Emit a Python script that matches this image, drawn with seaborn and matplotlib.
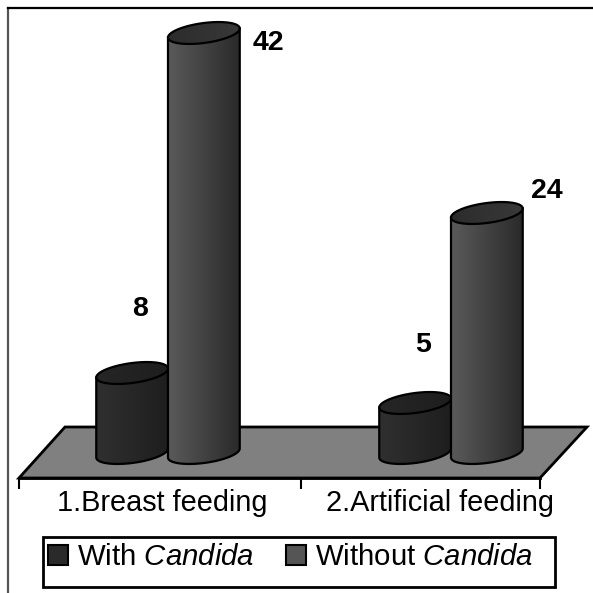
#!/usr/bin/env python

import numpy as np
import pandas as pd
import seaborn as sns
import matplotlib.pyplot as plt
from matplotlib.colors import to_rgb
from matplotlib.patches import PathPatch, Patch, Polygon, Rectangle
from matplotlib.path import Path

# Values
feeding = ['1.Breast feeding', '2.Artificial feeding']
groups = ['With Candida', 'Without Candida']
with_candida = [8, 5]
without_candida = [42, 24]

legend_labels = ['With $\\mathit{Candida}$', 'Without $\\mathit{Candida}$']

sns.set_style('white')
plt.rcParams['font.family'] = ['Liberation Sans', 'DejaVu Sans']
plt.rcParams['mathtext.fontset'] = 'custom'
plt.rcParams['mathtext.it'] = 'Liberation Sans:italic'
plt.rcParams['mathtext.rm'] = 'Liberation Sans'

df = pd.DataFrame({
    'feeding': feeding * 2,
    'group': [groups[0]] * 2 + [groups[1]] * 2,
    'count': with_candida + without_candida,
})


# pixel -> data helpers, the scale is 283 px per category and 10 px per case
def px_x(p):
    return (p - 168) / 283


def px_y(p):
    return (453 - p) / 10


def ramp(c0, c1):
    return np.linspace(to_rgb(c0), to_rgb(c1), 64)[None, :, :]


fig = plt.figure(figsize=(5.93, 5.93), dpi=100)
ax = fig.add_axes([8 / 593, 0, 585 / 593, 585 / 593])

sns.barplot(data=df, x='feeding', y='count', hue='group', order=feeding, hue_order=groups,
            width=0.507, gap=0, legend=False, ax=ax, color='0.2')
bars = list(ax.patches)[:4]

xlim = (px_x(8), px_x(593))
ylim = (px_y(593), px_y(8))

# floor of the fake 3D chart
floor = Polygon([(px_x(19), px_y(478)), (px_x(65), px_y(427)), (px_x(587), px_y(427)), (px_x(540), px_y(478))],
                closed=True, facecolor='#808080', edgecolor='black', lw=2, zorder=1)
ax.add_patch(floor)

body_ramp = [('#303030', '#1e1e1e'), ('#5a5a5a', '#2a2a2a')]
cap_ramp = [('#262626', '#1e1e1e'), ('#2c2c2c', '#383838')]
half_h = 1.0
tilt = 0.45

for i, bar in enumerate(bars):
    hue = i // 2
    left, right = bar.get_x(), bar.get_x() + bar.get_width()
    cx = (left + right) / 2
    a = bar.get_width() / 2
    top = bar.get_height()
    bar.set_visible(False)

    # body: lower half of the foot ellipse, then straight up to the rim
    t = np.linspace(np.pi, 2 * np.pi, 60)
    xs = cx + a * np.cos(t)
    ys = half_h * np.sin(t) + tilt * np.cos(t)
    verts = np.column_stack([xs, ys])
    verts = np.vstack([verts, [right, top + tilt], [left, top - tilt], verts[0]])
    body = PathPatch(Path(verts), facecolor='none', edgecolor='black', lw=1.6, zorder=3 + hue * 2)
    ax.add_patch(body)
    im = ax.imshow(ramp(*body_ramp[hue]), extent=(left, right, -half_h - tilt, top + tilt),
                   aspect='auto', zorder=2.9 + hue * 2)
    im.set_clip_path(body)

    # cap
    t = np.linspace(0, 2 * np.pi, 120)
    cap_verts = np.column_stack([cx + a * np.cos(t), top + half_h * np.sin(t) + tilt * np.cos(t)])
    cap = PathPatch(Path(cap_verts), facecolor='none', edgecolor='black', lw=1.6, zorder=3.5 + hue * 2)
    ax.add_patch(cap)
    im = ax.imshow(ramp(*cap_ramp[hue]), extent=(left, right, top - 1.5, top + 1.5),
                   aspect='auto', zorder=3.4 + hue * 2)
    im.set_clip_path(cap)

# value labels, each sits in its own spot in the original
values = with_candida + without_candida
label_dx = [-28, -28, 100, 96]
label_dy = [64, 58, -10, 22]
for i, bar in enumerate(bars):
    if i < 2:
        cx = bar.get_x() + bar.get_width()
    else:
        cx = bar.get_x()
    ax.text(cx + label_dx[i] / 283, values[i] + label_dy[i] / 10, str(values[i]),
            ha='center', va='center', fontsize=20.5, fontweight='bold', color='black', zorder=8)

ax.set_xlim(xlim)
ax.set_ylim(ylim)
ax.set_xlabel('')
ax.set_ylabel('')
ax.set_yticks([])

sns.despine(ax=ax, right=True, top=False, left=False, bottom=False)
ax.spines['top'].set_color('black')
ax.spines['top'].set_linewidth(1.6)
ax.spines['left'].set_color('#555555')
ax.spines['left'].set_linewidth(1.6)
ax.spines['bottom'].set_position(('data', px_y(478)))
ax.spines['bottom'].set_bounds(px_x(19), px_x(540))
ax.spines['bottom'].set_color('black')
ax.spines['bottom'].set_linewidth(2)

ax.set_xticks([px_x(162), px_x(440)], feeding)
ax.set_xticks([px_x(19), px_x(301), px_x(540)], minor=True)
ax.tick_params(axis='x', which='major', length=0, pad=8, labelsize=20.8, labelcolor='black')
ax.tick_params(axis='x', which='minor', bottom=True, length=8, width=1.5, color='black')

# legend box is taller than the text row, so it is its own rectangle
ax.add_patch(Rectangle((px_x(43), px_y(587)), px_x(555) - px_x(43), px_y(537) - px_y(587),
                       facecolor='white', edgecolor='black', lw=2, zorder=7))
handles = [Patch(facecolor='#2a2a2a', edgecolor='black', lw=1.5),
           Patch(facecolor='#555555', edgecolor='black', lw=1.5)]
leg = ax.legend(handles, legend_labels, loc='center left', ncol=2,
                bbox_to_anchor=(px_x(48), px_y(557)), bbox_transform=ax.transData,
                fontsize=21.2, labelcolor='black', frameon=False,
                handlelength=0.68, handleheight=0.68, handletextpad=0.3, columnspacing=1.08,
                borderpad=0, borderaxespad=0)
leg.set_zorder(9)

fig.savefig('out.png', dpi=100)
